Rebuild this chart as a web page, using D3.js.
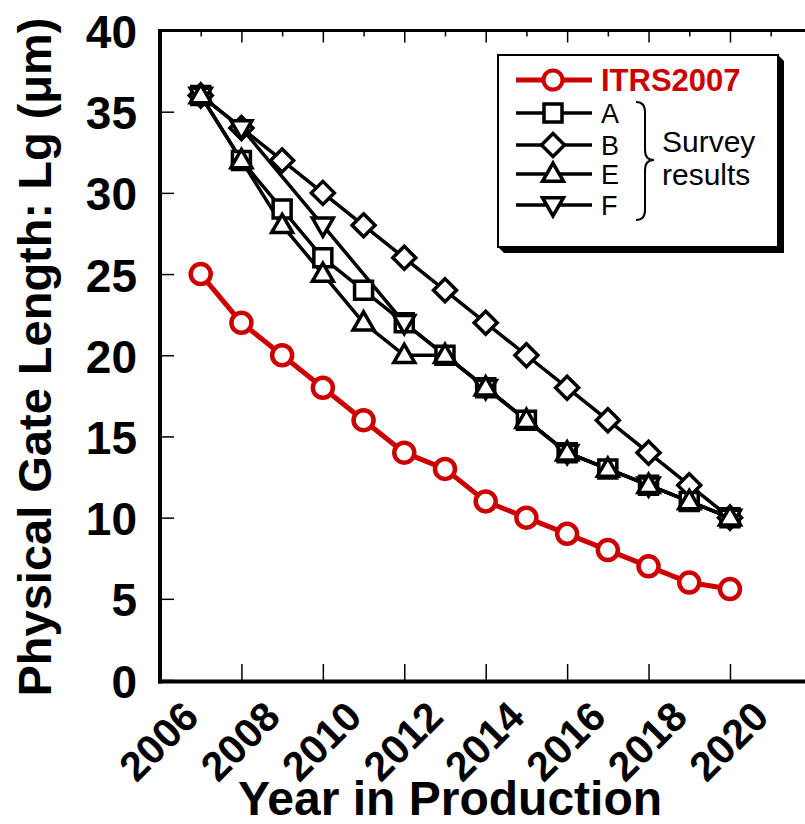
<!DOCTYPE html>
<html>
<head>
<meta charset="utf-8">
<script src="https://cdn.jsdelivr.net/npm/d3@7"></script>
<style>
  html, body { margin: 0; padding: 0; background: #fff; }
  svg { display: block; font-family: "Liberation Sans", Arial, sans-serif; }
</style>
</head>
<body>
<svg id="chart" width="805" height="824"></svg>
<script>
// ---------------- data ----------------
const itrsYears  = [2007, 2008, 2009, 2010, 2011, 2012, 2013, 2014, 2015, 2016, 2017, 2018, 2019, 2020];
const itrsValues = [25, 22, 20, 18, 16, 14, 13, 11, 10, 9, 8, 7, 6, 5.6];

const surveyYears = [2007, 2008, 2009, 2010, 2011, 2012, 2013, 2014, 2015, 2016, 2017, 2018, 2019, 2020];
const aValues = [36, 32, 29, 26, 24, 22, 20, 18, 16, 14, 13, 12, 11, 10];
const bValues = [36, 34, 32, 30, 28, 26, 24, 22, 20, 18, 16, 14, 12, 10];
const eValues = [36, 32, 28, 25, 22, 20, 20, 18, 16, 14, 13, 12, 11, 10];

const fYears  = [2007, 2008, 2010, 2012, 2014, 2016, 2018, 2020];
const fValues = [36, 34, 28, 22, 18, 14, 12, 10];

const xTickLabels = [2006, 2008, 2010, 2012, 2014, 2016, 2018, 2020];
const xMajorTicks = [2008, 2010, 2012, 2014, 2016, 2018, 2020];
const xMinorTicks = [2007, 2009, 2011, 2013, 2015, 2017, 2019, 2021];
const yTickValues = [0, 5, 10, 15, 20, 25, 30, 35, 40];

const legendNames = ["ITRS2007", "A", "B", "E", "F"];
const xTitle = "Year in Production";
const yTitle = "Physical Gate Length: Lg (\u03bcm)";
const surveyLabel = ["Survey", "results"];

// ---------------- setup ----------------
const svg = d3.select("#chart");
const x = d3.scaleLinear().domain([2006, 2022]).range([160, 811.4]);
const y = d3.scaleLinear().domain([0, 40]).range([680, 30.5]);
const RED = "#cc0000";

// custom marker shapes (size = full width in px)
const shapes = {
  circle: { draw(ctx, s) { const r = s / 2; ctx.moveTo(r, 0); ctx.arc(0, 0, r, 0, 2 * Math.PI); } },
  square: { draw(ctx, s) { const h = s / 2; ctx.rect(-h, -h, s, s); } },
  diamond: { draw(ctx, s) { const h = s / 2; ctx.moveTo(0, -h); ctx.lineTo(h, 0); ctx.lineTo(0, h); ctx.lineTo(-h, 0); ctx.closePath(); } },
  up: { draw(ctx, s) { const h = s / 2, t = s * 0.866; ctx.moveTo(0, -t * 0.6); ctx.lineTo(h, t * 0.4); ctx.lineTo(-h, t * 0.4); ctx.closePath(); } },
  down: { draw(ctx, s) { const h = s / 2, t = s * 0.866; ctx.moveTo(0, t * 0.6); ctx.lineTo(h, -t * 0.4); ctx.lineTo(-h, -t * 0.4); ctx.closePath(); } }
};

const series = [
  { name: "A", years: surveyYears, values: aValues, shape: "square", size: 18, color: "#000", lw: 3.5, mw: 3.5 },
  { name: "B", years: surveyYears, values: bValues, shape: "diamond", size: 23, color: "#000", lw: 3.5, mw: 3.5 },
  { name: "F", years: fYears, values: fValues, shape: "down", size: 21, color: "#000", lw: 3.5, mw: 3.5 },
  { name: "E", years: surveyYears, values: eValues, shape: "up", size: 21, color: "#000", lw: 3.5, mw: 3.5 },
  { name: "ITRS2007", years: itrsYears, values: itrsValues, shape: "circle", size: 20, color: RED, lw: 5, mw: 4.5 }
];

// ---------------- axes ----------------
const gAxes = svg.append("g");

// left axis ticks + labels
const leftAxis = d3.axisLeft(y).tickValues(yTickValues).tickSize(-14).tickPadding(23).tickFormat(d3.format("d"));
const gl = gAxes.append("g").attr("transform", `translate(${x(2006)},0)`).call(leftAxis);
gl.select(".domain").remove();
gl.selectAll(".tick line").attr("stroke", "#000").attr("stroke-width", 1.5);
gl.selectAll(".tick text").attr("font-size", 46).attr("font-weight", "bold").attr("fill", "#000").attr("dy", "0.37em");

// bottom axis ticks
const bottomAxis = d3.axisBottom(x).tickValues(xMajorTicks).tickSize(-16).tickFormat("");
const gb = gAxes.append("g").attr("transform", `translate(0,${y(0)})`).call(bottomAxis);
gb.select(".domain").remove();
gb.selectAll(".tick line").attr("stroke", "#000").attr("stroke-width", 1.5);

// bottom tick labels rotated
gAxes.append("g").selectAll("text").data(xTickLabels).join("text")
  .attr("transform", d => `translate(${x(d) + 41},719) rotate(-45)`)
  .attr("text-anchor", "end")
  .attr("font-size", 41).attr("font-weight", "bold").attr("fill", "#000")
  .text(d => d);

// top axis ticks (major + minor)
const topMajor = d3.axisTop(x).tickValues(xMajorTicks).tickSize(-12).tickFormat("");
const topMinor = d3.axisTop(x).tickValues(xMinorTicks).tickSize(-6).tickFormat("");
[topMajor, topMinor].forEach(ax => {
  const g = gAxes.append("g").attr("transform", `translate(0,${y(40)})`).call(ax);
  g.select(".domain").remove();
  g.selectAll(".tick line").attr("stroke", "#000").attr("stroke-width", 1.5);
});

// frame lines
gAxes.append("line").attr("x1", x(2006)).attr("x2", x(2022)).attr("y1", y(40)).attr("y2", y(40)).attr("stroke", "#000").attr("stroke-width", 3);
gAxes.append("line").attr("x1", x(2006) - 2).attr("x2", x(2022)).attr("y1", y(0) + 1.5).attr("y2", y(0) + 1.5).attr("stroke", "#000").attr("stroke-width", 4);
gAxes.append("line").attr("x1", x(2006)).attr("x2", x(2006)).attr("y1", y(40) - 1.5).attr("y2", y(0) + 3.5).attr("stroke", "#000").attr("stroke-width", 4);

// axis titles
svg.append("text").attr("x", 450).attr("y", 815).attr("text-anchor", "middle")
  .attr("font-size", 48).attr("font-weight", "bold").text(xTitle);
svg.append("text").attr("transform", "translate(51,357) rotate(-90)").attr("text-anchor", "middle")
  .attr("font-size", 47).attr("font-weight", "bold").text(yTitle);

// ---------------- series ----------------
const line = d3.line().x(d => x(d[0])).y(d => y(d[1]));
const gSeries = svg.append("g");
series.forEach(s => {
  const pts = s.years.map((yr, i) => [yr, s.values[i]]);
  gSeries.append("path").datum(pts).attr("d", line)
    .attr("fill", "none").attr("stroke", s.color).attr("stroke-width", s.lw).attr("stroke-linejoin", "round");
});
series.forEach(s => {
  const pts = s.years.map((yr, i) => [yr, s.values[i]]);
  const sym = d3.symbol().type(shapes[s.shape]).size(s.size);
  gSeries.append("g").selectAll("path").data(pts).join("path")
    .attr("transform", d => `translate(${x(d[0])},${y(d[1])})`)
    .attr("d", sym).attr("fill", "#fff").attr("stroke", s.color).attr("stroke-width", s.mw);
});

// ---------------- legend ----------------
const lg = svg.append("g");
const bx = 498, by = 55, bw = 280, bh = 192, sh = 6;
lg.append("path")
  .attr("d", `M${bx + bw},${by} L${bx + bw + sh},${by + sh} L${bx + bw + sh},${by + bh + sh} L${bx + sh},${by + bh + sh} L${bx},${by + bh} Z`)
  .attr("fill", "#000");
lg.append("rect").attr("x", bx).attr("y", by).attr("width", bw).attr("height", bh)
  .attr("fill", "#fff").attr("stroke", "#000").attr("stroke-width", 2);

const legendOrder = ["ITRS2007", "A", "B", "E", "F"];
const legendY = [80, 113, 145, 174, 205];
legendOrder.forEach((name, i) => {
  const s = series.find(d => d.name === name);
  const ly = legendY[i];
  const isItrs = name === "ITRS2007";
  lg.append("line").attr("x1", 516).attr("x2", 592).attr("y1", ly).attr("y2", ly)
    .attr("stroke", s.color).attr("stroke-width", isItrs ? 5 : 3.5);
  lg.append("path").attr("transform", `translate(553,${ly})`)
    .attr("d", d3.symbol().type(shapes[s.shape]).size(isItrs ? 19 : s.size)())
    .attr("fill", "#fff").attr("stroke", s.color).attr("stroke-width", isItrs ? 4 : 3.5);
  lg.append("text").attr("x", 601).attr("y", ly + (isItrs ? 11 : 10))
    .attr("font-size", isItrs ? 31 : 27).attr("font-weight", isItrs ? "bold" : "normal")
    .attr("fill", s.color).text(legendNames[legendNames.indexOf(name)]);
});

// brace
lg.append("path")
  .attr("d", "M636,102 Q645,102 645,112 L645,150 Q645,160 654,160 Q645,160 645,170 L645,210 Q645,220 636,220")
  .attr("fill", "none").attr("stroke", "#000").attr("stroke-width", 2);
lg.append("text").attr("x", 662).attr("y", 152).attr("font-size", 30).text(surveyLabel[0]);
lg.append("text").attr("x", 662).attr("y", 185).attr("font-size", 30).text(surveyLabel[1]);
</script>
</body>
</html>
